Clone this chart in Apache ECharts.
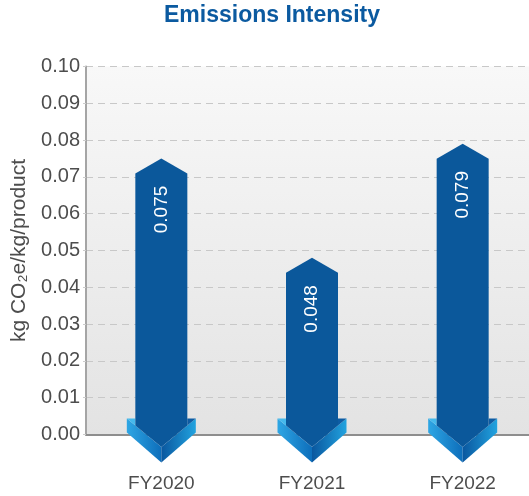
<!DOCTYPE html>
<html>
<head>
<meta charset="utf-8">
<script src="https://cdn.jsdelivr.net/npm/echarts@6/dist/echarts.min.js"></script>
<style>
html,body{margin:0;padding:0;background:#fff;}
#chart{width:529px;height:496px;}
</style>
</head>
<body>
<div id="chart"></div>
<script>
const titleText = 'Emissions Intensity';
const yAxisName = 'kg CO₂e/kg/product';
const categories = ['FY2020', 'FY2021', 'FY2022'];
const values = [0.075, 0.048, 0.079];

const chart = echarts.init(document.getElementById('chart'));
const FONT = '"Liberation Sans", Arial, Helvetica, sans-serif';

function renderArrow(params, api) {
  const v = api.value(1);
  const top = api.coord([api.value(0), v]);
  const base = api.coord([api.value(0), 0]);
  const cx = top[0], tipY = top[1], y0 = base[1];
  const B = 26, W = 34.5, H = 15;
  const T = y0 - 16;
  const slope = 28.5 / W;
  const inner = T + (W - B) * slope;
  const LG = echarts.graphic.LinearGradient;
  return {
    type: 'group',
    children: [
      { type: 'polygon', shape: { points: [[cx - W, T], [cx, T + 28.5], [cx, y0 + 28], [cx - W, T + 14]] },
        style: { fill: new LG(0, 0, 1, 0, [{ offset: 0, color: '#2ea6e4' }, { offset: 1, color: '#0d6ebb' }]) } },
      { type: 'polygon', shape: { points: [[cx + W, T], [cx, T + 28.5], [cx, y0 + 28], [cx + W, T + 14]] },
        style: { fill: new LG(0, 0, 1, 0, [{ offset: 0, color: '#0a579f' }, { offset: 1, color: '#22a3df' }]) } },
      { type: 'polygon', shape: { points: [[cx - W, T], [cx - B, T], [cx - B, inner]] },
        style: { fill: '#45b9ec' } },
      { type: 'polygon', shape: { points: [[cx + W, T], [cx + B, T], [cx + B, inner]] },
        style: { fill: '#0e5ca3' } },
      { type: 'polygon', shape: { points: [[cx - B, tipY + H], [cx, tipY], [cx + B, tipY + H], [cx + B, inner], [cx, T + 28.5], [cx - B, inner]] },
        style: { fill: '#0b589b' } },
      { type: 'text', x: cx, y: tipY + 51, rotation: Math.PI / 2,
        style: { text: v.toFixed(3), fill: '#ffffff', font: '19px ' + FONT, align: 'center', verticalAlign: 'middle' } }
    ]
  };
}

chart.setOption({
  animation: false,
  title: {
    text: titleText, left: 164, top: 4, padding: 0,
    textStyle: { color: '#0b5aa0', fontSize: 23, fontWeight: 'bold', fontFamily: FONT }
  },
  grid: {
    left: 86, top: 66.5, width: 452, bottom: 61.5, show: true, borderWidth: 0,
    containLabel: false, outerBoundsMode: 'none',
    backgroundColor: new echarts.graphic.LinearGradient(0, 0, 0, 1, [
      { offset: 0, color: '#f8f8f8' }, { offset: 1, color: '#e3e3e3' }
    ])
  },
  xAxis: {
    type: 'category', data: categories,
    axisLine: { lineStyle: { color: '#8e8e8e', width: 2 } },
    axisTick: { show: false },
    axisLabel: { margin: 40, color: '#4d4d4d', fontSize: 19, fontFamily: FONT }
  },
  yAxis: {
    type: 'value', min: 0, max: 0.1, interval: 0.01,
    name: yAxisName, nameLocation: 'middle', nameGap: 54,
    nameTextStyle: { color: '#4d4d4d', fontSize: 21, fontFamily: FONT },
    axisLine: { show: true, lineStyle: { color: '#a5a5a5', width: 2 } },
    axisTick: { show: true, length: 3, lineStyle: { color: '#cccccc' } },
    axisLabel: { margin: 6, color: '#4d4d4d', fontSize: 20, fontFamily: FONT, formatter: v => v.toFixed(2) },
    splitLine: { lineStyle: { color: '#c8c8c8', type: [7, 5], width: 1 } }
  },
  series: [{
    type: 'custom',
    renderItem: renderArrow,
    encode: { x: 0, y: 1 },
    clip: false,
    data: categories.map((c, i) => [i, values[i]])
  }]
});
</script>
</body>
</html>
